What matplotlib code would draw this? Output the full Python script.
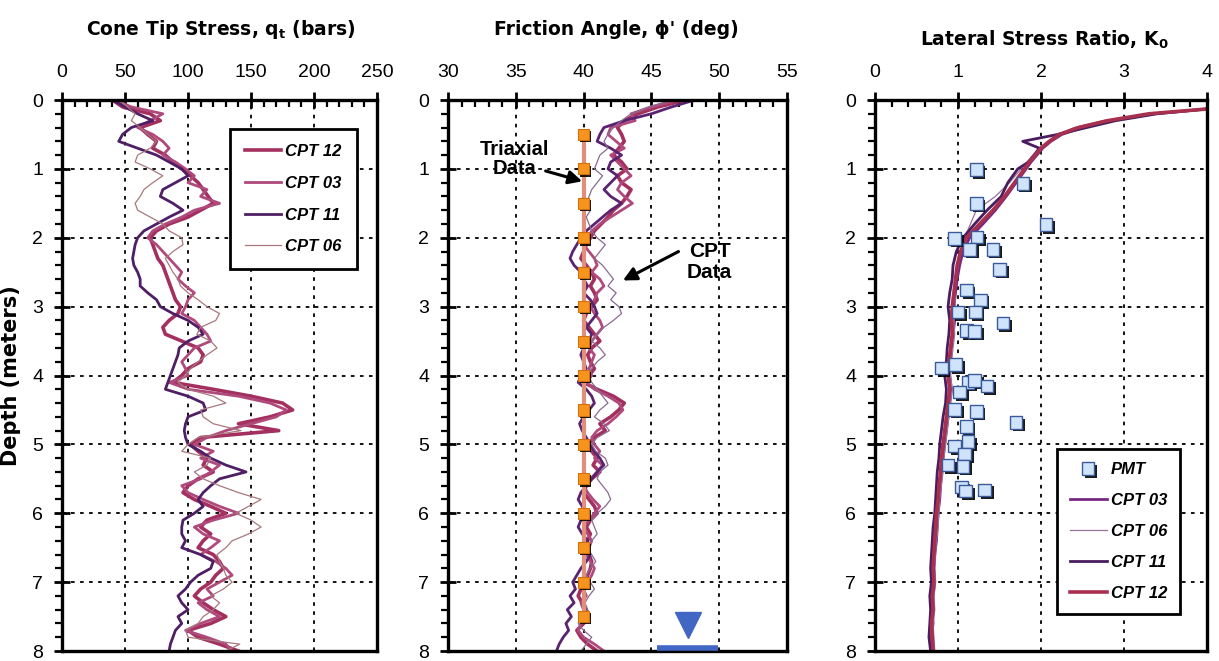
import numpy as np
import matplotlib.pyplot as plt
import matplotlib.patheffects as pe
from matplotlib.ticker import MultipleLocator

plt.rcParams['font.family'] = ['Liberation Sans', 'DejaVu Sans']

# ---------------- dados ----------------
depth = np.round(np.arange(0, 8.01, 0.1), 2)

# cone tip stress qt (bars)
qt_cpt12 = [40, 48, 70, 78, 62, 68, 75, 72, 82, 88, 95, 102, 108, 112, 116, 120, 110, 100, 85, 75,
            70, 72, 74, 76, 80, 82, 84, 86, 88, 90, 94, 92, 85, 80, 82, 95, 108, 112, 110, 100,
            95, 88, 120, 150, 175, 183, 165, 140, 172, 110, 102, 108, 115, 112, 120, 108, 100, 96, 105, 118,
            130, 115, 110, 118, 112, 108, 120, 125, 128, 122, 118, 110, 105, 112, 120, 130, 118, 100, 108, 125, 140]
qt_cpt03 = [42, 55, 80, 70, 60, 72, 80, 85, 80, 90, 98, 105, 100, 115, 110, 125, 105, 95, 82, 72,
            68, 75, 80, 85, 90, 95, 92, 98, 105, 100, 98, 95, 105, 110, 115, 118, 105, 100, 95, 98,
            100, 85, 100, 140, 165, 178, 170, 150, 130, 115, 105, 120, 110, 125, 118, 110, 95, 100, 112, 125,
            140, 120, 105, 112, 125, 118, 110, 122, 130, 135, 125, 115, 120, 108, 115, 125, 110, 98, 115, 130, 135]
qt_cpt11 = [40, 50, 60, 72, 55, 48, 45, 60, 75, 85, 95, 100, 90, 80, 78, 88, 96, 85, 75, 65,
            60, 58, 57, 56, 57, 60, 62, 62, 68, 75, 78, 88, 100, 108, 112, 100, 93, 92, 90, 88,
            86, 84, 82, 100, 112, 114, 100, 98, 97, 98, 100, 110, 118, 130, 146, 125, 118, 112, 108, 112,
            105, 96, 95, 95, 98, 95, 110, 120, 118, 108, 102, 98, 92, 95, 100, 92, 95, 90, 88, 86, 85]
qt_cpt06 = [45, 52, 58, 55, 62, 68, 75, 70, 60, 58, 70, 80, 72, 65, 62, 58, 60, 70, 80, 85,
            95, 96, 88, 82, 85, 88, 92, 94, 100, 108, 115, 125, 122, 110, 107, 118, 123, 115, 108, 102,
            98, 92, 100, 120, 130, 110, 112, 120, 142, 108, 100, 95, 118, 115, 105, 112, 125, 140, 158, 148,
            138, 150, 158, 148, 135, 130, 123, 125, 128, 130, 135, 128, 118, 125, 120, 112, 108, 98, 100, 141, 130]

# friction angle phi' (deg)
phi_cpt12 = [47.5, 45.5, 44.0, 43.0, 42.5, 42.8, 43.0, 42.6, 42.2, 42.8, 43.2, 42.5, 42.8, 43.5, 43.2, 42.8,
             42.2, 41.8, 41.3, 40.8, 40.5, 40.2, 40.0, 39.8, 40.2, 40.6, 40.8, 40.5, 40.8, 41.0, 40.6, 40.2,
             40.0, 40.4, 40.8, 41.2, 40.6, 40.3, 40.5, 40.8, 40.4, 40.0, 41.0, 42.2, 43.0, 42.6, 42.0, 41.2,
             41.6, 40.8, 40.3, 40.6, 41.0, 40.7, 41.2, 40.6, 40.2, 40.0, 40.4, 40.8, 41.0, 40.5, 40.2, 40.5,
             40.3, 40.0, 40.4, 40.6, 40.5, 40.3, 40.1, 39.8, 39.6, 39.9, 40.2, 40.4, 40.0, 39.5, 39.8, 40.3, 41.0]
phi_cpt03 = [47.0, 45.0, 43.5, 43.8, 42.0, 41.8, 42.4, 43.0, 42.0, 42.5, 43.0, 43.5, 42.8, 42.5, 43.0, 43.6,
             42.8, 42.0, 41.2, 40.6, 40.3, 40.0, 40.4, 40.8, 41.0, 40.6, 41.2, 41.5, 41.0, 40.8, 40.5, 40.8,
             41.2, 41.4, 41.0, 40.6, 40.4, 40.8, 40.6, 40.4, 40.6, 40.2, 40.8, 41.8, 42.6, 42.9, 42.4, 41.8,
             41.0, 40.6, 40.8, 41.2, 40.8, 41.4, 41.0, 40.5, 40.0, 40.3, 40.7, 41.2, 40.8, 40.4, 40.0, 40.3,
             40.6, 40.4, 40.2, 40.5, 40.8, 40.6, 40.3, 40.0, 40.2, 39.8, 40.0, 40.3, 39.8, 39.6, 40.0, 40.8, 41.5]
phi_cpt11 = [48.2, 46.5, 45.0, 43.0, 41.5, 41.2, 41.0, 42.0, 42.8, 42.0, 41.8, 42.5, 42.0, 41.5, 42.0, 42.8,
             42.0, 41.4, 40.8, 40.2, 39.8, 39.5, 39.2, 39.0, 39.3, 39.8, 40.0, 40.3, 40.0, 40.5, 40.8, 41.0,
             40.6, 40.2, 40.6, 40.4, 40.0, 39.8, 40.0, 40.2, 39.8, 39.6, 40.2, 40.6, 40.8, 40.4, 40.0, 39.7,
             39.9, 40.2, 40.5, 40.8, 41.2, 41.5, 41.0, 40.6, 40.2, 39.8, 39.6, 39.9, 40.2, 39.8, 39.6, 39.9,
             40.3, 40.0, 40.5, 40.2, 39.8, 39.5, 39.2, 39.4, 39.0, 39.3, 38.8, 39.1, 38.7, 38.9, 38.5, 38.2, 38.0]
phi_cpt06 = [46.5, 44.8, 43.5, 42.8, 42.2, 41.8, 41.5, 41.8, 41.2, 41.0, 40.8, 41.4, 41.0, 40.6, 40.4, 40.2,
             40.5, 40.2, 40.4, 40.6, 41.0, 41.6, 41.2, 40.8, 41.4, 41.8, 42.2, 41.8, 42.4, 42.0, 42.6, 42.8,
             42.2, 41.5, 41.0, 40.6, 41.2, 41.6, 41.0, 40.6, 40.4, 40.6, 41.0, 41.4, 41.8, 41.2, 40.8, 41.5,
             41.9, 41.0, 40.6, 40.9, 41.6, 41.8, 41.2, 41.0, 41.4, 41.8, 42.0, 41.6, 41.0, 40.6, 40.8, 41.0,
             40.6, 40.2, 40.6, 40.9, 40.5, 40.2, 40.5, 40.8, 40.4, 40.1, 40.3, 40.0, 39.6, 40.0, 40.6, 40.2, 39.8]

triax_depth = [0.5, 1.0, 1.5, 2.0, 2.5, 3.0, 3.5, 4.0, 4.5, 5.0, 5.5, 6.0, 6.5, 7.0, 7.5]
triax_phi = [40.0] * len(triax_depth)

# lateral stress ratio K0
k_depth = [0.13, 0.2, 0.3, 0.4, 0.5, 0.6, 0.7, 0.8, 0.9, 1.0, 1.2, 1.4, 1.6, 1.8, 2.0, 2.2, 2.4, 2.6,
           2.8, 3.0, 3.2, 3.4, 3.6, 3.8, 4.0, 4.2, 4.4, 4.6, 4.8, 5.0, 5.2, 5.4, 5.6, 5.8, 6.0, 6.2,
           6.4, 6.6, 6.8, 7.0, 7.2, 7.4, 7.6, 7.8, 8.0]
k_cpt03 = [4.00, 3.35, 2.85, 2.50, 2.25, 2.12, 2.02, 1.95, 1.88, 1.82, 1.70, 1.58, 1.45, 1.30, 1.14, 1.06,
           1.02, 0.99, 0.97, 0.95, 0.96, 0.94, 0.92, 0.91, 0.90, 0.92, 0.90, 0.88, 0.86, 0.84, 0.82, 0.80,
           0.79, 0.78, 0.76, 0.75, 0.74, 0.72, 0.71, 0.72, 0.70, 0.69, 0.70, 0.68, 0.69]
k_cpt06 = [4.00, 3.30, 2.75, 2.40, 2.20, 2.08, 1.97, 1.90, 1.83, 1.76, 1.62, 1.45, 1.22, 1.15, 1.08, 1.04,
           1.00, 0.98, 0.96, 0.97, 0.95, 0.96, 0.94, 0.92, 0.91, 0.93, 0.91, 0.89, 0.87, 0.85, 0.83, 0.82,
           0.80, 0.78, 0.77, 0.76, 0.74, 0.73, 0.72, 0.73, 0.71, 0.72, 0.70, 0.71, 0.72]
k_cpt11 = [4.00, 3.40, 2.90, 2.55, 2.20, 1.78, 1.98, 1.92, 1.85, 1.72, 1.60, 1.52, 1.35, 1.20, 1.06, 0.98,
           0.94, 0.93, 0.90, 0.88, 0.90, 0.89, 0.87, 0.86, 0.84, 0.86, 0.85, 0.82, 0.80, 0.78, 0.77, 0.75,
           0.74, 0.73, 0.72, 0.70, 0.69, 0.68, 0.67, 0.68, 0.66, 0.67, 0.66, 0.65, 0.67]
k_cpt12 = [4.00, 3.30, 2.80, 2.45, 2.22, 2.10, 2.00, 1.93, 1.86, 1.80, 1.68, 1.56, 1.42, 1.26, 1.10, 1.03,
           0.99, 0.97, 0.95, 0.93, 0.92, 0.93, 0.91, 0.89, 0.88, 0.90, 0.88, 0.86, 0.84, 0.82, 0.80, 0.79,
           0.77, 0.76, 0.74, 0.73, 0.72, 0.71, 0.70, 0.71, 0.69, 0.70, 0.68, 0.69, 0.70]

pmt_k = [1.22, 1.78, 1.22, 2.06, 0.96, 1.23, 1.14, 1.42, 1.50, 1.10, 1.27, 1.00, 1.21, 1.54, 1.10, 1.20,
         0.80, 0.97, 1.12, 1.20, 1.35, 1.02, 0.96, 1.22, 1.70, 1.10, 1.12, 0.96, 1.08, 0.88, 1.06, 1.04,
         1.09, 1.32]
pmt_depth = [1.01, 1.21, 1.50, 1.81, 2.01, 1.99, 2.17, 2.17, 2.46, 2.76, 2.90, 3.08, 3.08, 3.24, 3.35, 3.36,
             3.89, 3.84, 4.10, 4.07, 4.15, 4.24, 4.49, 4.52, 4.68, 4.74, 4.96, 5.02, 5.14, 5.30, 5.32, 5.62,
             5.68, 5.66]

water_phi = [47.7]
water_depth = [7.62]

# ---------------- figura ----------------
fig = plt.figure(figsize=(12.19, 6.61), dpi=100)
ax1 = fig.add_axes([0.0509, 0.0151, 0.2584, 0.8336])
ax2 = fig.add_axes([0.3675, 0.0151, 0.2781, 0.8336])
ax3 = fig.add_axes([0.7178, 0.0151, 0.2724, 0.8336])


def estilo(ax, xlim, xmaj, xmin):
    ax.set_xlim(xlim)
    ax.set_ylim(8, 0)
    ax.xaxis.tick_top()
    ax.xaxis.set_major_locator(MultipleLocator(xmaj))
    ax.xaxis.set_minor_locator(MultipleLocator(xmin))
    ax.yaxis.set_major_locator(MultipleLocator(1))
    ax.yaxis.set_minor_locator(MultipleLocator(0.2))
    ax.tick_params(axis='both', which='major', direction='inout', length=11, width=2,
                   labelsize=14, pad=8, top=True, bottom=False)
    ax.tick_params(axis='x', which='minor', direction='in', length=5, width=1.6, top=True, bottom=False)
    ax.tick_params(axis='y', which='minor', direction='out', length=5, width=1.6)
    ax.grid(True, which='major', color='black', linestyle=(0, (2, 3)), linewidth=1.3)
    for s in ax.spines.values():
        s.set_linewidth(2.4)


estilo(ax1, (0, 250), 50, 10)
estilo(ax2, (30, 55), 5, 1)
estilo(ax3, (0, 4), 1, 0.2)

# painel 1
ax1.plot(qt_cpt12, depth, color='#a3305e', lw=2.6, label='CPT 12')
ax1.plot(qt_cpt03, depth, color='#b04a7c', lw=2.0, label='CPT 03')
ax1.plot(qt_cpt11, depth, color='#4f1f66', lw=2.0, label='CPT 11')
ax1.plot(qt_cpt06, depth, color='#a8787c', lw=0.9, label='CPT 06')
ax1.set_ylabel('Depth (meters)', fontsize=15, fontweight='bold', family='DejaVu Sans', labelpad=8)
leg1 = ax1.legend(loc='upper right', bbox_to_anchor=(0.962, 0.962), fancybox=False, framealpha=1,
                  edgecolor='black', handlelength=2.2, handletextpad=0.25, labelspacing=1.0,
                  borderpad=0.9, prop={'size': 12, 'style': 'italic', 'weight': 'bold'})
leg1.get_frame().set_linewidth(2)

# painel 2
ax2.plot(phi_cpt12, depth, color='#a3305e', lw=2.6)
ax2.plot(phi_cpt03, depth, color='#b04a7c', lw=2.0)
ax2.plot(phi_cpt11, depth, color='#5a2270', lw=2.0)
ax2.plot(phi_cpt06, depth, color='#8a6a90', lw=0.9)
ax2.plot(triax_phi, triax_depth, color='#e0907a', lw=3, zorder=3)
ax2.plot(triax_phi, triax_depth, ls='none', marker='s', ms=8, mfc='#f7941d', mec='#d07010', mew=0.8,
         zorder=4, path_effects=[pe.SimplePatchShadow(offset=(1.6, -1.6), shadow_rgbFace='black', alpha=0.9),
                                 pe.Normal()])
ax2.plot([45.4, 49.9], [7.95, 7.95], color='#4266c4', lw=4, solid_capstyle='butt', clip_on=False, zorder=5)
ax2.plot(water_phi, water_depth, ls='none', marker='v', ms=19, color='#4266c4', clip_on=False, zorder=5)

seta = dict(arrowstyle='-|>,head_length=0.8,head_width=0.4', color='black', lw=2.2, shrinkA=0, shrinkB=0)
ax2.text(34.9, 0.85, 'Triaxial\nData', ha='center', va='center', fontsize=14.5, fontweight='bold',
         multialignment='center', linespacing=1.0)
ax2.annotate('', xy=(39.9, 1.18), xytext=(37.2, 1.03), arrowprops=seta)
ax2.text(49.3, 2.35, 'CPT\nData', ha='center', va='center', fontsize=15, fontweight='bold',
         multialignment='center', linespacing=1.15)
ax2.annotate('', xy=(42.9, 2.62), xytext=(47.0, 2.2), arrowprops=seta)

# painel 3
ax3.plot(pmt_k, pmt_depth, ls='none', marker='s', ms=9, mfc='#cfe4fa', mec='#3a5a9a', mew=1,
         label='PMT', zorder=4,
         path_effects=[pe.SimplePatchShadow(offset=(2, -2), shadow_rgbFace='black', alpha=0.9), pe.Normal()])
ax3.plot(k_cpt03, k_depth, color='#7a2882', lw=2.0, label='CPT 03')
ax3.plot(k_cpt06, k_depth, color='#9a7098', lw=0.9, label='CPT 06')
ax3.plot(k_cpt11, k_depth, color='#4a1c60', lw=2.0, label='CPT 11')
ax3.plot(k_cpt12, k_depth, color='#a8304f', lw=2.6, label='CPT 12')
leg3 = ax3.legend(loc='lower right', bbox_to_anchor=(0.945, 0.052), fancybox=False, framealpha=1,
                  edgecolor='black', handlelength=2.2, handletextpad=0.25, labelspacing=0.95,
                  borderpad=0.8, prop={'size': 12, 'style': 'italic', 'weight': 'bold'})
leg3.get_frame().set_linewidth(2)

# titulos
fig.text(0.181, 0.955, 'Cone Tip Stress, q$_\\mathregular{t}$ (bars)', ha='center', va='center',
         fontsize=13.5, fontweight='bold', family='DejaVu Sans')
fig.text(0.506, 0.955, "Friction Angle, \u03d5' (deg)", ha='center', va='center',
         fontsize=13.5, fontweight='bold', family='DejaVu Sans')
fig.text(0.857, 0.94, 'Lateral Stress Ratio, K$_\\mathregular{0}$', ha='center', va='center',
         fontsize=13.5, fontweight='bold', family='DejaVu Sans')

plt.savefig('out.png', dpi=100)
